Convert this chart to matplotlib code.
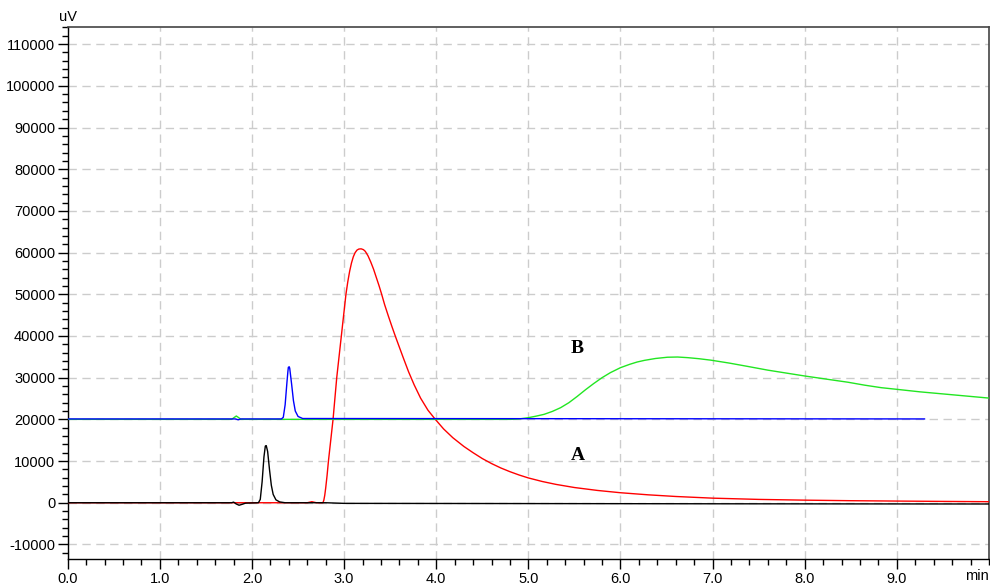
import matplotlib
matplotlib.use("Agg")
import matplotlib.pyplot as plt
from matplotlib.ticker import MultipleLocator, FixedLocator

plt.rcParams['font.family'] = ['Liberation Sans', 'DejaVu Sans']

# Trace A (black)
black_t = [0, 1.78, 1.80, 1.83, 1.86, 1.89, 1.93, 2.07, 2.09, 2.11, 2.13, 2.145, 2.155, 2.17, 2.19, 2.21,
           2.23, 2.26, 2.30, 2.36, 2.8, 3.0, 5.0, 7.0, 10.0]
black_v = [0, 0, 150, -300, -600, -400, -100, 0, 800, 5000, 11000, 13600, 13700, 12300, 8000, 4200,
           2000, 700, 200, 0, 0, -150, -200, -250, -300]

# Trace A (red)
red_t = [0, 2.6, 2.65, 2.7, 2.77, 2.78, 2.79, 2.80, 2.815, 2.83, 2.855, 2.88, 2.90, 2.92, 2.945,
         2.97, 2.995, 3.02, 3.04, 3.06, 3.08, 3.10, 3.12, 3.14, 3.16, 3.185, 3.21, 3.23, 3.26,
         3.29, 3.32, 3.35, 3.38, 3.405, 3.44, 3.48, 3.52, 3.56, 3.60, 3.64, 3.70, 3.76, 3.83,
         3.91, 3.99, 4.08, 4.18, 4.30, 4.40, 4.50, 4.60, 4.70, 4.80, 4.90, 5.00, 5.15, 5.30,
         5.50, 5.75, 6.00, 6.30, 6.60, 7.00, 7.50, 8.00, 8.50, 9.00, 9.50, 10.0]
red_v = [0, 0, 250, 0, 0, 600, 1800, 3500, 6500, 10000, 15000, 20000, 25000, 30000, 35000,
         40000, 45000, 50000, 53000, 55500, 57500, 59000, 60000, 60600, 60850, 60900, 60700, 60300, 59200,
         57700, 56000, 54000, 52000, 50200, 47500, 44800, 42200, 39700, 37300, 34900, 31400, 28300, 25100,
         22200, 20000, 17700, 15600, 13500, 12000, 10600, 9400, 8350, 7450, 6650, 5950, 5100, 4400,
         3650, 2950, 2400, 1900, 1500, 1100, 800, 620, 490, 400, 320, 250]

# Trace B (green)
green_t = [0, 1.78, 1.81, 1.83, 1.85, 1.88, 4.81, 4.9, 5.0, 5.08, 5.17, 5.26, 5.35, 5.44, 5.53,
           5.62, 5.71, 5.80, 5.89, 6.0, 6.1, 6.18, 6.26, 6.38, 6.51, 6.62, 6.73, 6.85, 6.98,
           7.18, 7.38, 7.6, 7.8, 8.0, 8.25, 8.47, 8.65, 8.83, 9.0, 9.25, 9.5, 9.75, 10.0]
green_v = [20000, 20000, 20500, 20800, 20500, 20000, 20000, 20100, 20400, 20750, 21200, 21900, 22800, 24000, 25500,
           27100, 28600, 30000, 31200, 32400, 33200, 33750, 34150, 34600, 34900, 34950, 34800, 34550, 34200,
           33500, 32700, 31800, 31100, 30400, 29600, 28900, 28200, 27600, 27200, 26600, 26100, 25600, 25100]

# Trace B (blue)
blue_t = [0, 1.82, 1.85, 1.88, 2.32, 2.34, 2.36, 2.38, 2.39, 2.395, 2.405, 2.41, 2.43, 2.45, 2.47, 2.50, 2.55, 9.3]
blue_v = [20100, 20100, 19900, 20100, 20100, 20500, 23500, 29000, 31500, 32500, 32600, 32200, 28500, 24500, 22000,
          20700, 20200, 20100]

x_tick_labels = ["0.0", "1.0", "2.0", "3.0", "4.0", "5.0", "6.0", "7.0", "8.0", "9.0"]
y_ticks = [-10000, 0, 10000, 20000, 30000, 40000, 50000, 60000, 70000, 80000, 90000, 100000, 110000]

fig = plt.figure(figsize=(9.9, 5.85), dpi=100)
ax = fig.add_axes([0.0684, 0.0444, 0.9306, 0.9094])

ax.plot(red_t, red_v, color='#ff0000', lw=1.0, zorder=3)
ax.plot(black_t, black_v, color='#000000', lw=1.0, zorder=4)
ax.plot(green_t, green_v, color='#22e622', lw=1.0, zorder=3)
ax.plot(blue_t, blue_v, color='#0000ff', lw=1.0, zorder=5)

ax.set_xlim(0, 10.0)
ax.set_ylim(-13500, 114100)

ax.xaxis.set_major_locator(FixedLocator(list(range(len(x_tick_labels)))))
ax.set_xticklabels(x_tick_labels)
ax.xaxis.set_minor_locator(MultipleLocator(0.2))
ax.yaxis.set_major_locator(FixedLocator(y_ticks))
ax.set_yticklabels([str(v) for v in y_ticks])
ax.yaxis.set_minor_locator(MultipleLocator(2000))

ax.tick_params(axis='both', which='major', direction='out', length=7, width=1, labelsize=10.5,
               colors='black', pad=2)
ax.tick_params(axis='both', which='minor', direction='out', length=4, width=1)

ax.grid(True, which='major', color='#cccccc', linestyle=(0, (6, 4)), lw=1.0, zorder=0)
ax.set_axisbelow(True)

for side in ['left', 'bottom']:
    ax.spines[side].set_color('black')
    ax.spines[side].set_linewidth(1.0)
for side in ['top', 'right']:
    ax.spines[side].set_color('#444444')
    ax.spines[side].set_linewidth(1.2)

ax.text(10.0, -13500 - 2300, "min", ha='right', va='top', fontsize=10.5, clip_on=False)
ax.text(0, 114100 + 800, "uV", ha='center', va='bottom', fontsize=10.5, clip_on=False)

ax.text(5.54, 11400, "A", ha='center', va='center', fontsize=14, fontweight='bold',
        family=['Liberation Serif', 'DejaVu Serif'])
ax.text(5.53, 37100, "B", ha='center', va='center', fontsize=14, fontweight='bold',
        family=['Liberation Serif', 'DejaVu Serif'])

fig.savefig("out.png", dpi=100)
